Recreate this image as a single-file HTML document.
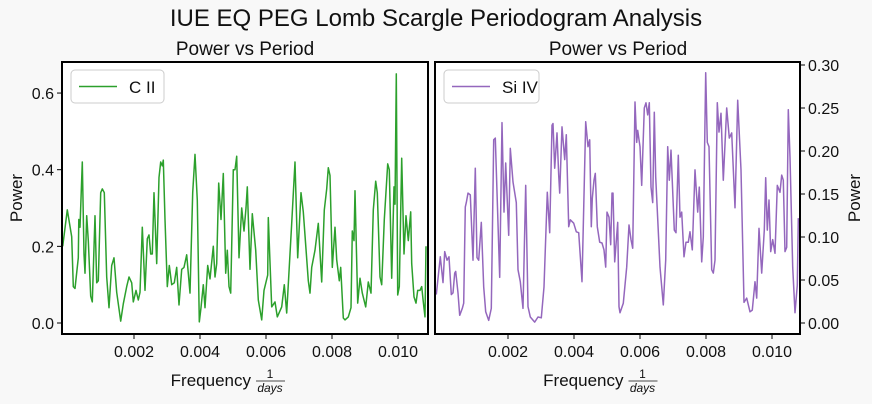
<!DOCTYPE html>
<html><head><meta charset="utf-8"><style>
html,body{margin:0;padding:0;background:#f8f8f8;}
svg{display:block;font-family:"Liberation Sans",sans-serif;}
</style></head><body>
<svg id="chart" width="872" height="404" viewBox="0 0 872 404">
<rect x="0" y="0" width="872" height="404" fill="#f8f8f8"/>
<text x="436" y="26" text-anchor="middle" font-size="24" fill="#111">IUE EQ PEG Lomb Scargle Periodogram Analysis</text>
<text x="245" y="55" text-anchor="middle" font-size="19" fill="#111">Power vs Period</text>
<text x="618" y="55" text-anchor="middle" font-size="19" fill="#111">Power vs Period</text>
<g id="left"></g>
<g id="right"></g>
</svg>
<script>
// frequency in units of 0.001 1/days
const freqC = [-0.161,-0.021,0.112,0.161,0.212,0.312,0.327,0.364,0.433,0.485,0.515,0.567,0.615,0.688,0.736,0.818,0.870,0.918,0.991,1.039,1.100,1.173,1.242,1.324,1.394,1.476,1.597,1.676,1.779,1.848,1.930,1.979,2.061,2.130,2.182,2.252,2.333,2.403,2.455,2.506,2.555,2.606,2.688,2.758,2.809,2.858,2.888,2.939,3.009,3.070,3.142,3.221,3.294,3.364,3.445,3.515,3.597,3.697,3.779,3.848,3.918,3.979,4.030,4.100,4.152,4.233,4.303,4.403,4.455,4.506,4.567,4.636,4.706,4.779,4.827,4.879,4.930,5.009,5.061,5.112,5.182,5.264,5.333,5.394,5.433,5.515,5.585,5.688,5.767,5.870,5.939,6.052,6.070,6.173,6.273,6.343,6.476,6.555,6.627,6.779,6.879,6.961,7.061,7.130,7.282,7.333,7.385,7.485,7.585,7.688,7.767,7.839,7.888,7.939,8.009,8.091,8.142,8.221,8.264,8.342,8.394,8.494,8.576,8.615,8.667,8.697,8.779,8.848,8.918,9.021,9.100,9.182,9.252,9.324,9.373,9.455,9.506,9.585,9.688,9.736,9.809,9.879,9.909,9.948,9.991,10.039,10.112,10.182,10.242,10.312,10.385,10.415,10.485,10.545,10.597,10.667,10.718,10.767,10.818,10.848];
const powerC = [0.20,0.295,0.225,0.095,0.09,0.17,0.27,0.25,0.42,0.18,0.13,0.28,0.215,0.07,0.055,0.28,0.105,0.11,0.34,0.35,0.34,0.12,0.04,0.15,0.17,0.08,0.005,0.05,0.095,0.12,0.105,0.055,0.085,0.06,0.08,0.25,0.085,0.22,0.23,0.18,0.18,0.34,0.155,0.38,0.42,0.41,0.425,0.27,0.095,0.15,0.10,0.105,0.145,0.047,0.14,0.145,0.178,0.078,0.34,0.44,0.32,0.003,0.04,0.10,0.04,0.15,0.115,0.20,0.12,0.155,0.365,0.27,0.39,0.13,0.19,0.095,0.078,0.40,0.40,0.435,0.17,0.30,0.24,0.30,0.355,0.14,0.285,0.19,0.06,0.008,0.085,0.125,0.275,0.042,0.055,0.016,0.042,0.10,0.026,0.26,0.42,0.17,0.34,0.29,0.11,0.078,0.145,0.19,0.26,0.107,0.295,0.35,0.405,0.385,0.145,0.25,0.165,0.11,0.145,0.013,0.008,0.016,0.04,0.24,0.215,0.345,0.052,0.117,0.078,0.042,0.107,0.078,0.295,0.37,0.34,0.12,0.10,0.27,0.415,0.40,0.117,0.355,0.31,0.65,0.073,0.095,0.43,0.18,0.28,0.215,0.29,0.155,0.068,0.052,0.085,0.085,0.095,0.055,0.016,0.20];
const freqS = [-0.173,-0.052,0.030,0.082,0.152,0.212,0.282,0.333,0.385,0.415,0.485,0.536,0.615,0.658,0.706,0.736,0.788,0.858,0.939,1.009,1.061,1.112,1.191,1.264,1.324,1.415,1.494,1.567,1.615,1.748,1.818,1.879,1.930,2.021,2.070,2.152,2.252,2.303,2.373,2.455,2.536,2.606,2.676,2.809,2.909,3.009,3.091,3.191,3.264,3.333,3.364,3.415,3.485,3.536,3.567,3.636,3.718,3.767,3.839,3.888,3.991,4.070,4.142,4.242,4.355,4.424,4.476,4.524,4.555,4.606,4.645,4.706,4.779,4.848,4.909,4.961,5.000,5.061,5.112,5.152,5.182,5.233,5.324,5.364,5.394,5.494,5.597,5.667,5.727,5.779,5.848,5.900,5.930,6.000,6.052,6.130,6.182,6.233,6.282,6.333,6.385,6.433,6.476,6.606,6.706,6.779,6.839,6.888,6.939,7.039,7.091,7.161,7.212,7.264,7.333,7.394,7.464,7.515,7.585,7.667,7.748,7.797,7.870,7.918,7.991,8.039,8.091,8.173,8.221,8.273,8.342,8.394,8.455,8.524,8.627,8.706,8.779,8.879,8.961,9.061,9.152,9.233,9.333,9.403,9.485,9.536,9.606,9.688,9.767,9.809,9.858,9.909,9.961,10.021,10.091,10.161,10.242,10.294,10.342,10.394,10.445,10.494,10.545,10.627,10.697,10.767,10.797];
const powerS = [0.033,0.077,0.047,0.083,0.073,0.077,0.033,0.035,0.058,0.06,0.035,0.009,0.017,0.023,0.135,0.14,0.151,0.149,0.073,0.18,0.076,0.073,0.117,0.042,0.013,0.003,0.017,0.213,0.215,0.053,0.233,0.129,0.186,0.102,0.203,0.164,0.14,0.062,0.048,0.017,0.16,0.019,0.007,0.001,0.007,0.006,0.042,0.152,0.105,0.23,0.232,0.18,0.221,0.172,0.151,0.228,0.19,0.219,0.112,0.12,0.116,0.106,0.105,0.048,0.234,0.205,0.213,0.112,0.145,0.166,0.174,0.112,0.094,0.093,0.085,0.065,0.129,0.123,0.091,0.151,0.151,0.071,0.117,0.019,0.012,0.023,0.065,0.114,0.097,0.087,0.257,0.21,0.224,0.205,0.16,0.25,0.256,0.242,0.256,0.158,0.14,0.245,0.17,0.065,0.021,0.073,0.205,0.166,0.201,0.108,0.105,0.195,0.123,0.129,0.077,0.094,0.094,0.106,0.085,0.178,0.129,0.158,0.071,0.1,0.291,0.21,0.205,0.062,0.058,0.073,0.256,0.222,0.244,0.166,0.25,0.215,0.221,0.134,0.259,0.178,0.024,0.029,0.013,0.015,0.048,0.029,0.11,0.058,0.108,0.169,0.108,0.143,0.083,0.097,0.081,0.16,0.152,0.172,0.166,0.083,0.088,0.248,0.193,0.065,0.012,0.044,0.122];
const xTicks = [2,4,6,8,10];
const xTickLabels = ["0.002","0.004","0.006","0.008","0.010"];
const yTicksC = [0,0.2,0.4,0.6];
const yTickLabelsC = ["0.0","0.2","0.4","0.6"];
const yTicksS = [0,0.05,0.1,0.15,0.2,0.25,0.3];
const yTickLabelsS = ["0.00","0.05","0.10","0.15","0.20","0.25","0.30"];

const NS = "http://www.w3.org/2000/svg";
function mk(parent, tag, attrs, text){
  const e = document.createElementNS(NS, tag);
  for (const k in attrs) e.setAttribute(k, attrs[k]);
  if (text !== undefined) e.textContent = text;
  parent.appendChild(e);
  return e;
}
function panel(g, cfg){
  const {x0,x1,y0,y1,fmin,fmax,pmin,pmax,freq,power,color,yt,ytl,side,label} = cfg;
  const sx = f => x0 + (f - fmin)/(fmax - fmin)*(x1 - x0);
  const sy = p => y1 - (p - pmin)/(pmax - pmin)*(y1 - y0);
  const bg = mk(g,'rect',{x:x0,y:y0,width:x1-x0,height:y1-y0,fill:'#fff'});
  
  
  const cid = 'clip-'+side;
  const cp = mk(g,'clipPath',{id:cid});
  mk(cp,'rect',{x:x0,y:y0,width:x1-x0,height:y1-y0});
  let d = '';
  freq.forEach((f,i)=>{ d += (i?'L':'M') + sx(f).toFixed(1) + ',' + sy(power[i]).toFixed(1); });
  const line = mk(g,'path',{d:d,fill:'none',stroke:color,'stroke-width':1.5,'stroke-linejoin':'round','clip-path':'url(#'+cid+')'});
  
  
  xTicks.forEach((t,i)=>{
    const x = sx(t);
    const tk = mk(g,'line',{x1:x,x2:x,y1:y1,y2:y1+5,stroke:'#000','stroke-width':1});
    
    
    const tl = mk(g,'text',{x:x,y:y1+23,'text-anchor':'middle','font-size':16,fill:'#111'}, xTickLabels[i]);
    
    
  });
  yt.forEach((t,i)=>{
    const y = sy(t);
    const isL = side==='left';
    const tk = mk(g,'line',{x1:isL?x0-5:x1,x2:isL?x0:x1+5,y1:y,y2:y,stroke:'#000','stroke-width':1});
    
    
    const tl = mk(g,'text',{x:isL?x0-8:x1+8,y:y+6,'text-anchor':isL?'end':'start','font-size':16,fill:'#111'}, ytl[i]);
    
    
  });
  const fr = mk(g,'rect',{x:x0,y:y0,width:x1-x0,height:y1-y0,fill:'none',stroke:'#000','stroke-width':2});
  
  
  const cx = (x0+x1)/2;
  const xl = mk(g,'g',{});
  
  
  mk(xl,'text',{x:cx+6,y:y1+52,'text-anchor':'end','font-size':17,fill:'#111'},'Frequency');
  mk(xl,'text',{x:cx+25,y:y1+44,'text-anchor':'middle','font-size':12,fill:'#111'},'1');
  mk(xl,'line',{x1:cx+11,x2:cx+40,y1:y1+47,y2:y1+47,stroke:'#111','stroke-width':0.8});
  mk(xl,'text',{x:cx+25,y:y1+58,'text-anchor':'middle','font-size':12,'font-style':'italic',fill:'#111'},'days');
  const yx = side==='left' ? 22 : 860;
  const yl = mk(g,'text',{x:yx,y:(y0+y1)/2,'text-anchor':'middle','font-size':17,fill:'#111',transform:'rotate(-90 '+yx+' '+(y0+y1)/2+')'},'Power');
  
  
  const lg = mk(g,'g',{});
  
  
  const lw = side==='left'?93:95;
  mk(lg,'rect',{x:x0+9,y:y0+8,width:lw,height:33,rx:4,fill:'#fff',stroke:'#ccc','stroke-width':1});
  mk(lg,'line',{x1:x0+17,x2:x0+55,y1:y0+24.5,y2:y0+24.5,stroke:color,'stroke-width':1.5});
  mk(lg,'text',{x:x0+67,y:y0+31,'font-size':17,fill:'#111'},label);
}
panel(document.getElementById('left'),{x0:62,x1:428,y0:62,y1:334,fmin:-0.182,fmax:10.909,pmin:-0.0287,pmax:0.681,freq:freqC,power:powerC,color:'#2ca02c',yt:yTicksC,ytl:yTickLabelsC,side:'left',label:'C II'});
panel(document.getElementById('right'),{x0:435,x1:800,y0:62,y1:334,fmin:-0.212,fmax:10.848,pmin:-0.0128,pmax:0.3035,freq:freqS,power:powerS,color:'#9467bd',yt:yTicksS,ytl:yTickLabelsS,side:'right',label:'Si IV'});
</script>
</body></html>
